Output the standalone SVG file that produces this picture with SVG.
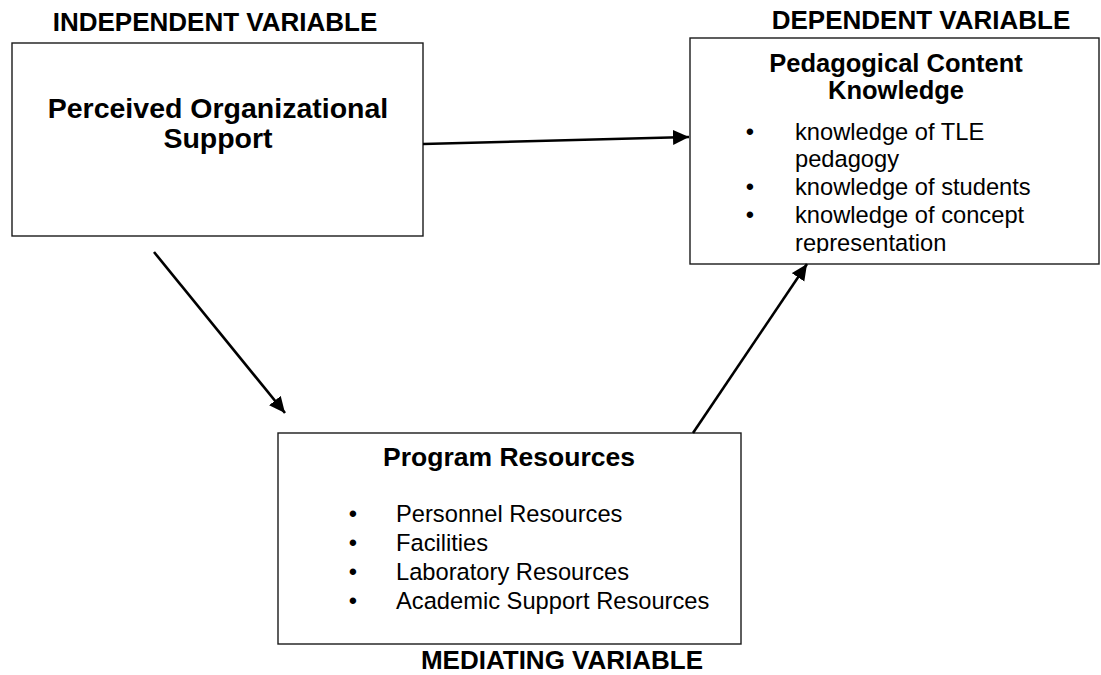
<svg xmlns="http://www.w3.org/2000/svg" width="1101" height="675" viewBox="0 0 1101 675">
  <style>
    .box { fill: #ffffff; stroke: #1a1a1a; stroke-width: 1.4; }
    .hdr { font-family: "Liberation Sans", Arial, sans-serif; font-weight: bold; font-size: 26px; fill: #000; text-anchor: middle; }
    .ttl { font-family: "Liberation Sans", Arial, sans-serif; font-weight: bold; fill: #000; text-anchor: middle; }
    .txt { font-family: "Liberation Sans", Arial, sans-serif; font-size: 23.7px; fill: #000; }
    .bul { font-family: "Liberation Sans", Arial, sans-serif; font-size: 23.7px; fill: #000; text-anchor: middle; }
    .conn { stroke: #000; stroke-width: 2.6; fill: none; marker-end: url(#head); }
  </style>
  <defs>
    <marker id="head" markerUnits="userSpaceOnUse" markerWidth="17" markerHeight="16" refX="16" refY="7.5" orient="auto">
      <path d="M0,0 L16,7.5 L0,15 Z" fill="#000"/>
    </marker>
    <clipPath id="pckClip">
      <rect x="690" y="38" width="410" height="215"/>
    </clipPath>
  </defs>
  <rect width="1101" height="675" fill="#ffffff"/>

  <!-- variable headings -->
  <text class="hdr" x="215" y="31">INDEPENDENT VARIABLE</text>
  <text class="hdr" x="921" y="29">DEPENDENT VARIABLE</text>
  <text class="hdr" x="562" y="669">MEDIATING VARIABLE</text>

  <!-- independent variable -->
  <g id="pos">
    <rect class="box" x="12" y="43" width="411" height="193"/>
    <text class="ttl" x="218" y="118" font-size="28.5">Perceived Organizational</text>
    <text class="ttl" x="218" y="148" font-size="28.5">Support</text>
  </g>

  <!-- dependent variable -->
  <g id="pck">
    <rect class="box" x="690" y="38" width="409" height="226"/>
    <text class="ttl" x="896" y="72" font-size="25.5">Pedagogical Content</text>
    <text class="ttl" x="896" y="99" font-size="25.5">Knowledge</text>
    <g clip-path="url(#pckClip)">
      <text class="bul" x="750" y="140">•</text>
      <text class="txt" x="795" y="140">knowledge of TLE</text>
      <text class="txt" x="795" y="167">pedagogy</text>
      <text class="bul" x="750" y="195">•</text>
      <text class="txt" x="795" y="195">knowledge of students</text>
      <text class="bul" x="750" y="223">•</text>
      <text class="txt" x="795" y="223">knowledge of concept</text>
      <text class="txt" x="795" y="251">representation</text>
    </g>
  </g>

  <!-- mediating variable -->
  <g id="resources">
    <rect class="box" x="278" y="433" width="463" height="211"/>
    <text class="ttl" x="509" y="466" font-size="26.5">Program Resources</text>
    <text class="bul" x="353" y="522">•</text>
    <text class="txt" x="396" y="522">Personnel Resources</text>
    <text class="bul" x="353" y="551">•</text>
    <text class="txt" x="396" y="551">Facilities</text>
    <text class="bul" x="353" y="580">•</text>
    <text class="txt" x="396" y="580">Laboratory Resources</text>
    <text class="bul" x="353" y="609">•</text>
    <text class="txt" x="396" y="609">Academic Support Resources</text>
  </g>

  <!-- connectors -->
  <g id="connectors">
    <line class="conn" x1="423" y1="144" x2="689" y2="137"/>
    <line class="conn" x1="154" y1="252" x2="285" y2="413"/>
    <line class="conn" x1="693" y1="433" x2="807" y2="264"/>
  </g>
</svg>
